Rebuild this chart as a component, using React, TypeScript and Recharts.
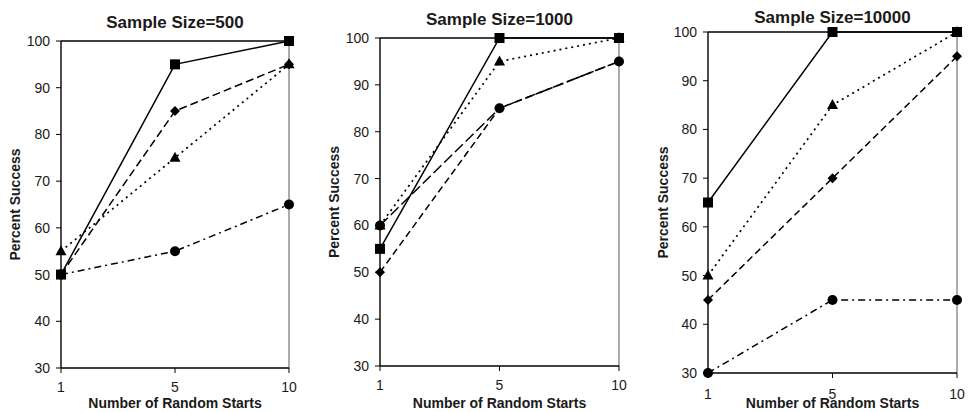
import React from 'react';
import { LineChart, Line, XAxis, YAxis, ReferenceLine } from 'recharts';

const categories = ['1', '5', '10'];
const yTicks = [30, 40, 50, 60, 70, 80, 90, 100];

const s500Square = [50, 95, 100];
const s500Diamond = [50, 85, 95];
const s500Triangle = [55, 75, 95];
const s500Circle = [50, 55, 65];

const s1000Square = [55, 100, 100];
const s1000Diamond = [50, 85, 95];
const s1000Triangle = [60, 95, 100];
const s1000Circle = [60, 85, 95];

const s10000Square = [65, 100, 100];
const s10000Diamond = [45, 70, 95];
const s10000Triangle = [50, 85, 100];
const s10000Circle = [30, 45, 45];

const titles = ['Sample Size=500', 'Sample Size=1000', 'Sample Size=10000'];

const FONT = '"Liberation Sans", Arial, Helvetica, sans-serif';
const TXT = '#1a1a1a';

type Shape = 'square' | 'diamond' | 'triangle' | 'circle';

const makeDot = (shape: Shape) => (props: any) => {
  const { cx, cy, index } = props;
  const k = `${shape}-${index}`;
  if (cx == null || cy == null) return <g key={k} />;
  if (shape === 'square') return <rect key={k} x={cx - 5} y={cy - 5} width={10} height={10} fill="#000" />;
  if (shape === 'circle') return <circle key={k} cx={cx} cy={cy} r={5} fill="#000" />;
  if (shape === 'triangle')
    return <path key={k} d={`M${cx},${cy - 6}L${cx + 5.5},${cy + 4}L${cx - 5.5},${cy + 4}Z`} fill="#000" />;
  return <path key={k} d={`M${cx},${cy - 5}L${cx + 5},${cy}L${cx},${cy + 5}L${cx - 5},${cy}Z`} fill="#000" />;
};

interface PanelProps {
  left: number;
  width: number;
  plotLeft: number;
  plotRight: number;
  plotTop: number;
  plotBottom: number;
  yLabelX: number;
  xTickGap: number;
  titleY: number;
  title: string;
  square: number[];
  diamond: number[];
  triangle: number[];
  circle: number[];
  circleDash: string;
  diamondDash: string;
}

const Panel = (p: PanelProps) => {
  const data = categories.map((c, i) => ({
    x: c,
    square: p.square[i],
    diamond: p.diamond[i],
    triangle: p.triangle[i],
    circle: p.circle[i],
  }));
  const H = 412;
  const xAxisH = H - p.plotBottom;
  return (
    <div style={{ position: 'absolute', left: p.left, top: 0, width: p.width, height: H }}>
      <div
        style={{
          position: 'absolute',
          left: (p.plotLeft + p.plotRight) / 2 - 150,
          width: 300,
          top: p.titleY - 10,
          height: 20,
          lineHeight: '20px',
          textAlign: 'center',
          fontFamily: FONT,
          fontWeight: 'bold',
          fontSize: 17,
          color: TXT,
        }}
      >
        {p.title}
      </div>
      <LineChart
        width={p.width}
        height={H}
        data={data}
        margin={{ top: p.plotTop, right: p.width - p.plotRight, bottom: 0, left: 0 }}
        style={{ position: 'absolute', left: 0, top: 0 }}
      >
        <XAxis
          dataKey="x"
          type="category"
          height={xAxisH}
          axisLine={{ stroke: '#000', strokeWidth: 1.4 }}
          tickLine={{ stroke: '#000' }}
          tickSize={5}
          tickMargin={p.xTickGap - 5}
          tick={{ fontSize: 14, fill: TXT, fontFamily: FONT }}
          interval={0}
          label={{
            value: 'Number of Random Starts',
            position: 'insideBottom',
            offset: 4,
            style: { fontSize: 14, fontWeight: 'bold', fill: TXT, fontFamily: FONT },
          }}
        />
        <YAxis
          type="number"
          domain={[30, 100]}
          ticks={yTicks}
          width={p.plotLeft}
          axisLine={{ stroke: '#000', strokeWidth: 1.4 }}
          tickLine={{ stroke: '#000' }}
          tickSize={5}
          tickMargin={6}
          tick={{ fontSize: 14, fill: TXT, fontFamily: FONT }}
          interval={0}
          label={{
            value: 'Percent Success',
            angle: -90,
            position: 'insideLeft',
            offset: p.yLabelX,
            style: { textAnchor: 'middle', fontSize: 14, fontWeight: 'bold', fill: TXT, fontFamily: FONT },
          }}
        />
        <ReferenceLine y={100} stroke="#000" strokeWidth={1.4} />
        <ReferenceLine x="10" stroke="#888" strokeWidth={1.4} />
        <Line
          dataKey="diamond"
          stroke="#000"
          strokeWidth={1.5}
          strokeDasharray={p.diamondDash}
          dot={makeDot('diamond')}
          activeDot={false}
          isAnimationActive={false}
        />
        <Line
          dataKey="triangle"
          stroke="#000"
          strokeWidth={1.7}
          strokeDasharray="2 4"
          dot={makeDot('triangle')}
          activeDot={false}
          isAnimationActive={false}
        />
        <Line
          dataKey="circle"
          stroke="#000"
          strokeWidth={1.5}
          strokeDasharray={p.circleDash}
          dot={makeDot('circle')}
          activeDot={false}
          isAnimationActive={false}
        />
        <Line
          dataKey="square"
          stroke="#000"
          strokeWidth={1.5}
          dot={makeDot('square')}
          activeDot={false}
          isAnimationActive={false}
        />
      </LineChart>
    </div>
  );
};

export default function App() {
  return (
    <div style={{ position: 'absolute', left: 0, top: 0, width: 968, height: 412, background: '#fff', overflow: 'hidden' }}>
      <Panel
        left={0}
        width={320}
        plotLeft={61}
        plotRight={289}
        plotTop={41}
        plotBottom={368}
        yLabelX={15}
        xTickGap={14}
        titleY={23}
        title={titles[0]}
        square={s500Square}
        diamond={s500Diamond}
        triangle={s500Triangle}
        circle={s500Circle}
        circleDash="7 4 2 4"
        diamondDash="8 4"
      />
      <Panel
        left={320}
        width={320}
        plotLeft={60}
        plotRight={299}
        plotTop={38}
        plotBottom={366}
        yLabelX={14}
        xTickGap={14}
        titleY={20}
        title={titles[1]}
        square={s1000Square}
        diamond={s1000Diamond}
        triangle={s1000Triangle}
        circle={s1000Circle}
        circleDash="11 4"
        diamondDash="7 4"
      />
      <Panel
        left={640}
        width={328}
        plotLeft={68}
        plotRight={317}
        plotTop={32}
        plotBottom={373}
        yLabelX={23}
        xTickGap={16}
        titleY={18}
        title={titles[2]}
        square={s10000Square}
        diamond={s10000Diamond}
        triangle={s10000Triangle}
        circle={s10000Circle}
        circleDash="7 4 2 4"
        diamondDash="7 4"
      />
    </div>
  );
}
